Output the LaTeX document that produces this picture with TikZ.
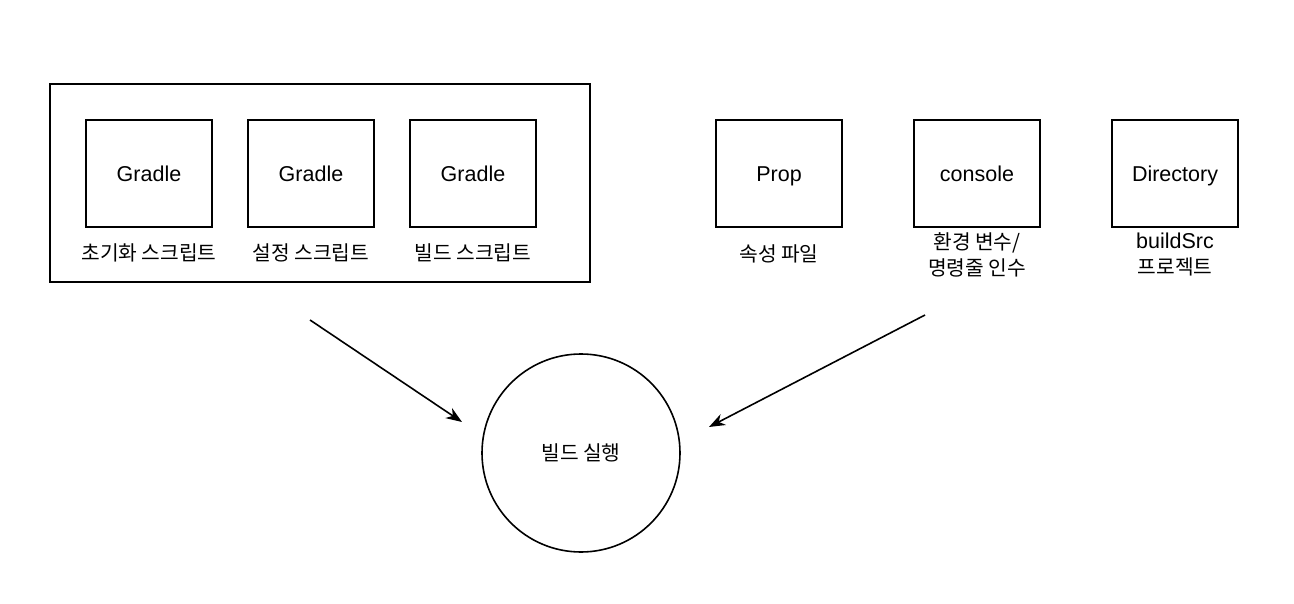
\documentclass[tikz,border=0pt]{standalone}
\usepackage{fontspec}
\setmainfont{Liberation Sans}
\newfontfamily\kr{Noto Sans CJK KR}
\usetikzlibrary{arrows.meta}
\begin{document}
\begin{tikzpicture}[x=1pt,y=-1pt,
  box/.style={draw,line width=1.6pt,minimum width=126pt,minimum height=107pt,inner sep=0pt,text height=15.5pt,text depth=0pt,font=\fontsize{21.5}{24}\selectfont},
  lbl/.style={align=center,inner sep=0pt,font=\kr\fontsize{20.3}{26}\selectfont},
  arr/.style={line width=1.6pt,-{Stealth[length=16pt,width=12pt,inset=5pt]}}]
\useasboundingbox (0,0) rectangle (1294,604);
\node[draw,line width=1.6pt,minimum width=540pt,minimum height=198pt,inner sep=0pt] (outer) at (320,183) {};
\node[box] (g1) at (149,173.5) {Gradle};
\node[box] (g2) at (311,173.5) {Gradle};
\node[box] (g3) at (473,173.5) {Gradle};
\node[lbl] (l1) at (149,253) {초기화 스크립트};
\node[lbl] (l2) at (311,253) {설정 스크립트};
\node[lbl] (l3) at (473,253) {빌드 스크립트};
\node[box] (p) at (779,173.5) {Prop};
\node[box] (c) at (977,173.5) {console};
\node[box] (d) at (1175,173.5) {Directory};
\node[lbl] (l4) at (779,254) {속성 파일};
\node[lbl] (l5) at (977,255) {환경 변수/\\명령줄 인수};
\node[lbl] (l6) at (1175,255) {{\fontspec{Liberation Sans}\fontsize{21.5}{26}\selectfont buildSrc}\\프로젝트};
\node[draw,circle,line width=1.6pt,minimum size=198pt,inner sep=0pt,font=\kr\fontsize{20.3}{24}\selectfont] (run) at (581,453) {빌드 실행};
\coordinate (a1s) at (310,320);
\coordinate (a1e) at (462,422);
\coordinate (a2s) at (925,315);
\coordinate (a2e) at (709,427);
\draw[arr] (a1s) -- (a1e);
\draw[arr] (a2s) -- (a2e);
\end{tikzpicture}
\end{document}
